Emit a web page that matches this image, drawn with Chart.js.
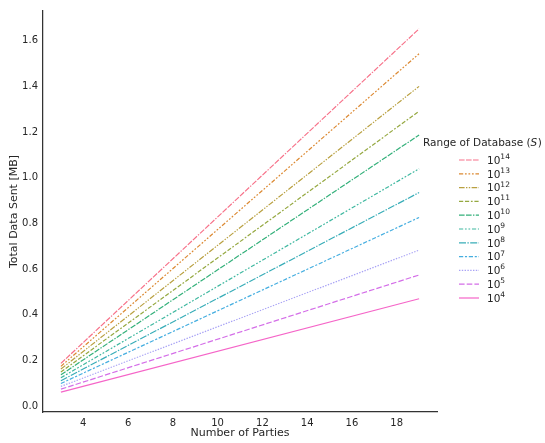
<!DOCTYPE html>
<html>
<head>
<meta charset="utf-8">
<script src="https://cdn.jsdelivr.net/npm/chart.js@4/dist/chart.umd.min.js"></script>
<style>
  html, body { margin: 0; padding: 0; background: #fff; }
  #wrap { width: 545px; height: 443px; position: relative; }
</style>
</head>
<body>
<div id="wrap"><canvas id="c"></canvas></div>
<script>
// ---- data ----
const partiesX = [3, 19];
const exponents = [14, 13, 12, 11, 10, 9, 8, 7, 6, 5, 4];
const series14 = [0.187, 1.652];
const series13 = [0.174, 1.543];
const series12 = [0.162, 1.400];
const series11 = [0.149, 1.291];
const series10 = [0.137, 1.187];
const series9  = [0.124, 1.039];
const series8  = [0.111, 0.935];
const series7  = [0.099, 0.826];
const series6  = [0.086, 0.683];
const series5  = [0.074, 0.574];
const series4  = [0.061, 0.470];
const xTicks = [4, 6, 8, 10, 12, 14, 16, 18];
const yTicks = [0.0, 0.2, 0.4, 0.6, 0.8, 1.0, 1.2, 1.4, 1.6];

const allSeries = [series14, series13, series12, series11, series10, series9, series8, series7, series6, series5, series4];
const colors = ['#f77189', '#dc8932', '#b9a040', '#95a840', '#33b07a', '#3fb8a0', '#38adb8', '#45aee0', '#a9a3f5', '#d46ee8', '#f565c8'];
const dashBase = [
  [4,1,4,1,4,1,1,1],
  [3,1.25,1.25,1.25,1.25,1.25,1.25,1.25],
  [4,1,1,1,1,1],
  [3,1.25,3,1.25,1.25,1.25],
  [4,1,4,1,1,1],
  [3,1.25,1.25,1.25,1.25,1.25],
  [5,1,1,1],
  [3,1.25,1.5,1.25],
  [1,1],
  [4,1.5],
  []
];
const dashScale = 1.4;
const dashes = dashBase.map(d => d.map(v => v * dashScale));

const datasets = allSeries.map((s, i) => ({
  label: '10^' + exponents[i],
  data: partiesX.map((x, j) => ({x: x, y: s[j]})),
  borderColor: colors[i],
  backgroundColor: colors[i],
  borderWidth: 1.2,
  borderDash: dashes[i],
  pointRadius: 0,
  fill: false,
  tension: 0
}));

const FONT = 'DejaVu Sans';
const TXT = '#262626';

const legendPlugin = {
  id: 'customLegend',
  afterDraw(chart) {
    const ctx = chart.ctx;
    ctx.save();
    ctx.fillStyle = TXT;
    ctx.textBaseline = 'middle';
    // title
    ctx.font = '10.5px "' + FONT + '"';
    ctx.textAlign = 'left';
    const t1 = 'Range of Database (';
    let tx = 423;
    const ty = 143;
    ctx.fillText(t1, tx, ty);
    tx += ctx.measureText(t1).width;
    ctx.font = 'italic 10.5px "' + FONT + '"';
    ctx.fillText('S', tx, ty);
    tx += ctx.measureText('S').width + 0.5;
    ctx.font = '10.5px "' + FONT + '"';
    ctx.fillText(')', tx, ty);
    // entries
    const y0 = 160, dy = 13.8;
    chart.data.datasets.forEach((ds, i) => {
      const y = y0 + i * dy;
      ctx.strokeStyle = ds.borderColor;
      ctx.lineWidth = 1.2;
      ctx.setLineDash(ds.borderDash);
      ctx.beginPath();
      ctx.moveTo(459, y);
      ctx.lineTo(479, y);
      ctx.stroke();
      ctx.setLineDash([]);
      ctx.fillStyle = TXT;
      ctx.font = '10.5px "' + FONT + '"';
      ctx.fillText('10', 487, y + 1);
      const w = ctx.measureText('10').width;
      ctx.font = '7.5px "' + FONT + '"';
      ctx.fillText(String(exponents[i]), 487 + w, y - 3);
    });
    ctx.restore();
  }
};

new Chart(document.getElementById('c'), {
  type: 'line',
  data: { datasets },
  plugins: [legendPlugin],
  options: {
    responsive: true,
    maintainAspectRatio: false,
    animation: false,
    layout: { padding: { top: 8, right: 108, left: 0, bottom: 0 } },
    plugins: { legend: { display: false }, tooltip: { enabled: false } },
    scales: {
      x: {
        type: 'linear',
        min: 2.2,
        max: 19.8,
        afterBuildTicks(scale) { scale.ticks = xTicks.map(v => ({value: v})); },
        afterFit(scale) { scale.height = 31; },
        grid: { display: true, drawOnChartArea: false, drawTicks: false },
        border: { display: true, color: '#333333', width: 1.25 },
        ticks: { color: TXT, font: { family: FONT, size: 10 }, padding: 5, maxRotation: 0,
                 callback: v => String(v) },
        title: { display: true, text: 'Number of Parties', color: TXT,
                 font: { family: FONT, size: 11 }, padding: { top: 0, bottom: 3 } }
      },
      y: {
        type: 'linear',
        min: -0.026,
        max: 1.73,
        afterBuildTicks(scale) { scale.ticks = yTicks.map(v => ({value: v})); },
        afterFit(scale) { scale.width = 43; },
        grid: { display: true, drawOnChartArea: false, drawTicks: false },
        border: { display: true, color: '#333333', width: 1.25 },
        ticks: { color: TXT, font: { family: FONT, size: 10 }, padding: 5,
                 callback: v => Number(v).toFixed(1) },
        title: { display: true, text: 'Total Data Sent [MB]', color: TXT,
                 font: { family: FONT, size: 11 }, padding: { top: 8, bottom: 0 } }
      }
    }
  }
});
</script>
</body>
</html>
